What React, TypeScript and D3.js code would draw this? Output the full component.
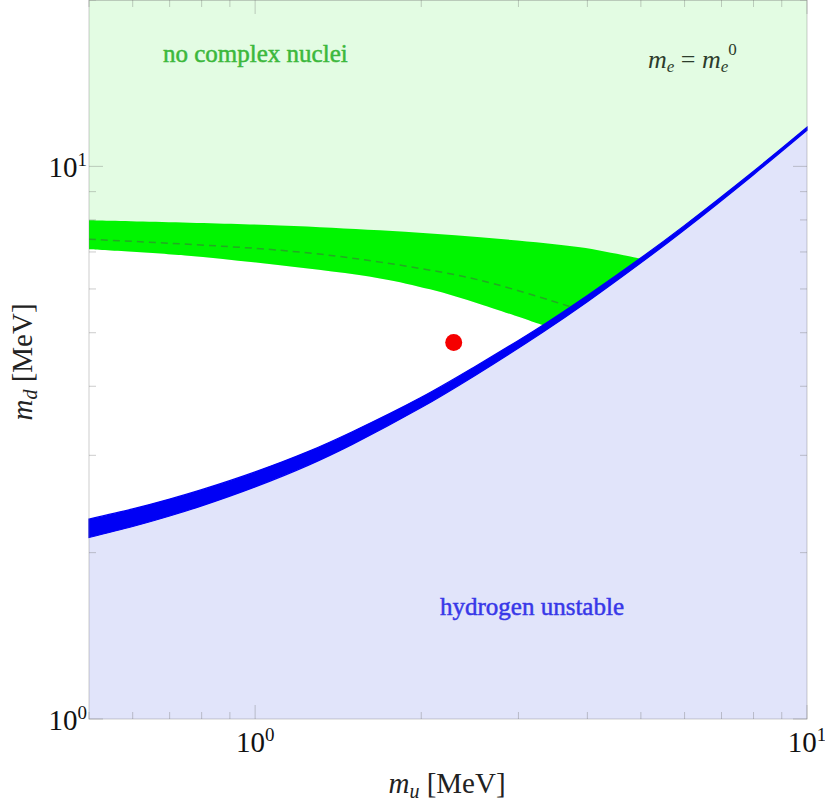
import * as d3 from 'd3';

// blue band: hydrogen stability boundary
const MU_BLUE = [0.5, 0.6, 0.7, 0.8, 1, 1.25, 1.5, 2, 2.5, 3.32, 4, 4.98, 6, 8, 10];
const MD_BLUE_UPPER = [2.3, 2.4, 2.5, 2.6, 2.8, 3.05, 3.31, 3.82, 4.34, 5.16, 5.84, 6.81, 7.82, 9.8, 11.77];
const MD_BLUE_LOWER = [2.13, 2.23, 2.33, 2.43, 2.63, 2.88, 3.14, 3.66, 4.18, 5.01, 5.69, 6.67, 7.68, 9.66, 11.62];

// green band: complex nuclei boundary
const MU_GREEN_UPPER = [0.5, 1.11, 1.684, 2.56, 3.88, 4.98];
const MD_GREEN_UPPER = [7.99, 7.82, 7.66, 7.44, 7.14, 6.81];
const MU_GREEN_LOWER = [0.5, 0.747, 1.11, 1.684, 2.075, 2.56, 3.32];
const MD_GREEN_LOWER = [7.08, 6.9, 6.62, 6.27, 5.99, 5.63, 5.16];

// dashed central curve
const MU_DASHED = [0.5, 1.11, 1.684, 2.56, 3.75];
const MD_DASHED = [7.38, 7.05, 6.71, 6.22, 5.56];

// physical point
const MU_POINT = 2.29;
const MD_POINT = 4.8;

const X_DOMAIN = [0.5, 10];
const Y_DOMAIN = [1, 20];
const X_TICKS = [0.5, 0.6, 0.7, 0.8, 0.9, 1, 2, 3, 4, 5, 6, 7, 8, 9, 10];
const Y_TICKS = [1, 2, 3, 4, 5, 6, 7, 8, 9, 10, 20];
const MAJOR = [1, 10];

const W = 825;
const H = 801;
const left = 89;
const right = 807;
const top = 0;
const bottom = 719;

const x = d3.scaleLog().domain(X_DOMAIN).range([left, right]);
const y = d3.scaleLog().domain(Y_DOMAIN).range([bottom, top]);

type P = [number, number];
const zip = (a: number[], b: number[]): P[] => a.map((v, i) => [v, b[i]]);

const curved = d3
  .line<P>()
  .x((d) => x(d[0]))
  .y((d) => y(d[1]))
  .curve(d3.curveCatmullRom);
const straight = d3
  .line<P>()
  .x((d) => x(d[0]))
  .y((d) => y(d[1]));

// glue several pieces into one closed path
function polygon(pieces: { pts: P[]; smooth: boolean }[]) {
  return (
    pieces
      .map((p, i) => {
        const s = (p.smooth ? curved(p.pts) : straight(p.pts)) || '';
        return i === 0 ? s : s.replace(/^M/, 'L');
      })
      .join('') + 'Z'
  );
}

const serif = '"Liberation Serif", "DejaVu Serif", serif';

export default function App() {
  const blueUpper = zip(MU_BLUE, MD_BLUE_UPPER);
  const blueLower = zip(MU_BLUE, MD_BLUE_LOWER);
  const greenUpper = zip(MU_GREEN_UPPER, MD_GREEN_UPPER);
  const greenLower = zip(MU_GREEN_LOWER, MD_GREEN_LOWER);
  const dashed = zip(MU_DASHED, MD_DASHED);

  const muMeetLow = MU_GREEN_LOWER[MU_GREEN_LOWER.length - 1];
  const muMeetHigh = MU_GREEN_UPPER[MU_GREEN_UPPER.length - 1];

  const lightBlue = polygon([
    { pts: blueUpper, smooth: true },
    { pts: [[X_DOMAIN[1], Y_DOMAIN[0]], [X_DOMAIN[0], Y_DOMAIN[0]]], smooth: false },
  ]);
  const white = polygon([
    { pts: greenLower, smooth: true },
    { pts: blueLower.filter((d) => d[0] <= muMeetLow).reverse(), smooth: true },
  ]);
  const greenBand = polygon([
    { pts: greenUpper, smooth: true },
    {
      pts: blueLower.filter((d) => d[0] >= muMeetLow && d[0] <= muMeetHigh).reverse(),
      smooth: false,
    },
    { pts: greenLower.slice().reverse(), smooth: true },
  ]);
  const blueBand = polygon([
    { pts: blueUpper, smooth: true },
    { pts: blueLower.slice().reverse(), smooth: true },
  ]);

  const frameColor = 'rgba(110,110,110,0.35)';

  return (
    <svg
      width={W}
      height={H}
      style={{ position: 'absolute', left: 0, top: 0, background: '#fff' }}
    >
      <rect x={left} y={top} width={right - left} height={bottom - top} fill="#e3fce3" />
      <path d={lightBlue} fill="#e1e4fa" />
      <path d={white} fill="#ffffff" />
      <path d={greenBand} fill="#00f500" />
      <path d={blueBand} fill="#0000f5" stroke="#0000f5" strokeWidth={1.2} />
      <path
        d={curved(dashed) || ''}
        fill="none"
        stroke="#2f8f2f"
        strokeOpacity={0.75}
        strokeWidth={1.5}
        strokeDasharray="7 5"
      />
      <circle cx={x(MU_POINT)} cy={y(MD_POINT)} r={8.5} fill="#f50000" />

      {/* frame and ticks */}
      <rect
        x={left}
        y={top + 0.5}
        width={right - left}
        height={bottom - top - 0.5}
        fill="none"
        stroke={frameColor}
        strokeWidth={1}
      />
      {X_TICKS.map((t) => {
        const len = MAJOR.includes(t) ? 14 : 7;
        return (
          <g key={'x' + t} stroke={frameColor} strokeWidth={1}>
            <line x1={x(t)} x2={x(t)} y1={bottom} y2={bottom - len} />
            <line x1={x(t)} x2={x(t)} y1={top} y2={top + len} />
          </g>
        );
      })}
      {Y_TICKS.map((t) => {
        const len = MAJOR.includes(t) ? 14 : 7;
        return (
          <g key={'y' + t} stroke={frameColor} strokeWidth={1}>
            <line x1={left} x2={left + len} y1={y(t)} y2={y(t)} />
            <line x1={right} x2={right - len} y1={y(t)} y2={y(t)} />
          </g>
        );
      })}

      {/* tick labels */}
      {MAJOR.map((t) => (
        <text
          key={'yl' + t}
          x={left - 2}
          y={y(t) + 11}
          textAnchor="end"
          fontSize={29}
          fontFamily={serif}
          fill="#111"
        >
          10
          <tspan fontSize={19} dy={-11}>
            {Math.log10(t)}
          </tspan>
        </text>
      ))}
      {MAJOR.map((t) => (
        <text
          key={'xl' + t}
          x={x(t)}
          y={752}
          textAnchor="middle"
          fontSize={29}
          fontFamily={serif}
          fill="#111"
        >
          10
          <tspan fontSize={19} dy={-11}>
            {Math.log10(t)}
          </tspan>
        </text>
      ))}

      {/* axis titles */}
      <text x={447} y={793} textAnchor="middle" fontFamily={serif} fontSize={29} fill="#222">
        <tspan fontStyle="italic">m</tspan>
        <tspan fontStyle="italic" fontSize={20} dy={5}>
          u
        </tspan>
        <tspan dy={-5}> [MeV]</tspan>
      </text>
      <text
        transform="translate(32,362) rotate(-90)"
        textAnchor="middle"
        fontFamily={serif}
        fontSize={29}
        fill="#222"
      >
        <tspan fontStyle="italic">m</tspan>
        <tspan fontStyle="italic" fontSize={20} dy={5}>
          d
        </tspan>
        <tspan dy={-5}> [MeV]</tspan>
      </text>

      {/* region labels */}
      <text
        x={163}
        y={62}
        fontFamily={serif}
        fontSize={25}
        fill="#3cb83c"
        stroke="#3cb83c"
        strokeWidth={0.5}
      >
        no complex nuclei
      </text>
      <text
        x={440}
        y={615}
        fontFamily={serif}
        fontSize={25}
        fill="#3838e8"
        stroke="#3838e8"
        strokeWidth={0.5}
      >
        hydrogen unstable
      </text>
      <text x={648} y={68} fontFamily={serif} fontSize={26} fill="#2c3c2c">
        <tspan fontStyle="italic">m</tspan>
        <tspan fontStyle="italic" fontSize={17} dy={4}>
          e
        </tspan>
        <tspan dy={-4}> = </tspan>
        <tspan fontStyle="italic">m</tspan>
        <tspan fontStyle="italic" fontSize={17} dy={4}>
          e
        </tspan>
        <tspan fontSize={17} dy={-17}>
          0
        </tspan>
      </text>
    </svg>
  );
}
